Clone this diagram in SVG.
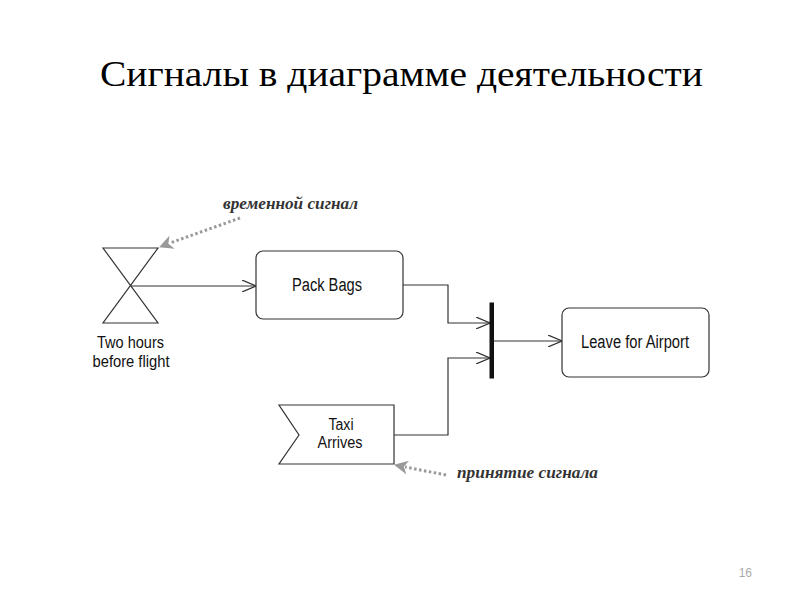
<svg xmlns="http://www.w3.org/2000/svg" width="800" height="600" viewBox="0 0 800 600">
<style>
.lbl{font-family:"Liberation Sans",Arial,sans-serif;font-size:18px;fill:#111;}
.lbl2{font-family:"Liberation Sans",Arial,sans-serif;font-size:16px;fill:#111;}
.shape{fill:#fff;stroke:#333;stroke-width:1.2;}
.edge{fill:none;stroke:#333;stroke-width:1.2;}
.note{font-family:"Liberation Serif","DejaVu Serif",serif;font-style:italic;font-weight:bold;font-size:16px;fill:#333;}
.dot{fill:none;stroke:#999;stroke-width:3;stroke-dasharray:2.5 2.5;}
</style>
<defs>
<marker id="open" viewBox="0 0 14 12" refX="14" refY="6" markerWidth="14" markerHeight="12" markerUnits="userSpaceOnUse" orient="auto">
<path d="M0,0 L14,6 L0,12" fill="none" stroke="#333" stroke-width="1.2"/>
</marker>
<marker id="gray" viewBox="0 0 14 14" refX="13" refY="7" markerWidth="14" markerHeight="14" markerUnits="userSpaceOnUse" orient="auto">
<path d="M0,0 L14,7 L0,14 L4,7 Z" fill="#999"/>
</marker>
</defs>
<rect width="800" height="600" fill="#fff"/>
<text x="100" y="86" font-family="'Liberation Serif','Times New Roman',serif" font-size="36" fill="#000" textLength="603" lengthAdjust="spacingAndGlyphs">Сигналы в диаграмме деятельности</text>

<g id="connectors">
<path class="edge" d="M130,286 L256,286" marker-end="url(#open)"/>
<path class="edge" d="M403,285 L448,285 L448,323 L490,323" marker-end="url(#open)"/>
<path class="edge" d="M394,435 L448,435 L448,358 L490,358" marker-end="url(#open)"/>
<path class="edge" d="M492,341 L562,341" marker-end="url(#open)"/>
<path class="dot" d="M240,218 L170,243"/>
<path d="M175,241 L160,247" stroke="none" fill="none" marker-end="url(#gray)"/>
<path class="dot" d="M446,475 L405,467"/>
<path d="M410,468 L395,465" stroke="none" fill="none" marker-end="url(#gray)"/>
</g>

<g id="timer">
<path class="shape" d="M103,248 L158,248 L103,323 L158,323 Z"/>
<text class="lbl2" x="130.5" y="348" text-anchor="middle" textLength="67" lengthAdjust="spacingAndGlyphs">Two hours</text>
<text class="lbl2" x="131" y="366.5" text-anchor="middle" textLength="77" lengthAdjust="spacingAndGlyphs">before flight</text>
</g>

<g id="pack-bags">
<rect class="shape" x="256" y="251" width="147" height="68" rx="7"/>
<text class="lbl" x="327" y="291" text-anchor="middle" textLength="70" lengthAdjust="spacingAndGlyphs">Pack Bags</text>
</g>

<g id="join">
<rect x="489.5" y="302.5" width="4.5" height="76" fill="#111"/>
</g>

<g id="leave">
<rect class="shape" x="562" y="308" width="147" height="69" rx="7"/>
<text class="lbl" x="635" y="347.5" text-anchor="middle" textLength="108" lengthAdjust="spacingAndGlyphs">Leave for Airport</text>
</g>

<g id="taxi">
<path class="shape" d="M279,405 L394,405 L394,464 L279,464 L299,435 Z"/>
<text class="lbl2" x="341" y="429.5" text-anchor="middle" textLength="25" lengthAdjust="spacingAndGlyphs">Taxi</text>
<text class="lbl2" x="340" y="448" text-anchor="middle" textLength="45" lengthAdjust="spacingAndGlyphs">Arrives</text>
</g>

<g id="note-timer">
<text class="note" x="223" y="209" textLength="135" lengthAdjust="spacingAndGlyphs">временной сигнал</text>
</g>
<g id="note-accept">
<text class="note" x="457" y="478" textLength="141" lengthAdjust="spacingAndGlyphs">принятие сигнала</text>
</g>

<text x="752" y="577" text-anchor="end" font-family="'Liberation Sans',Arial,sans-serif" font-size="12" fill="#aaa">16</text>
</svg>
